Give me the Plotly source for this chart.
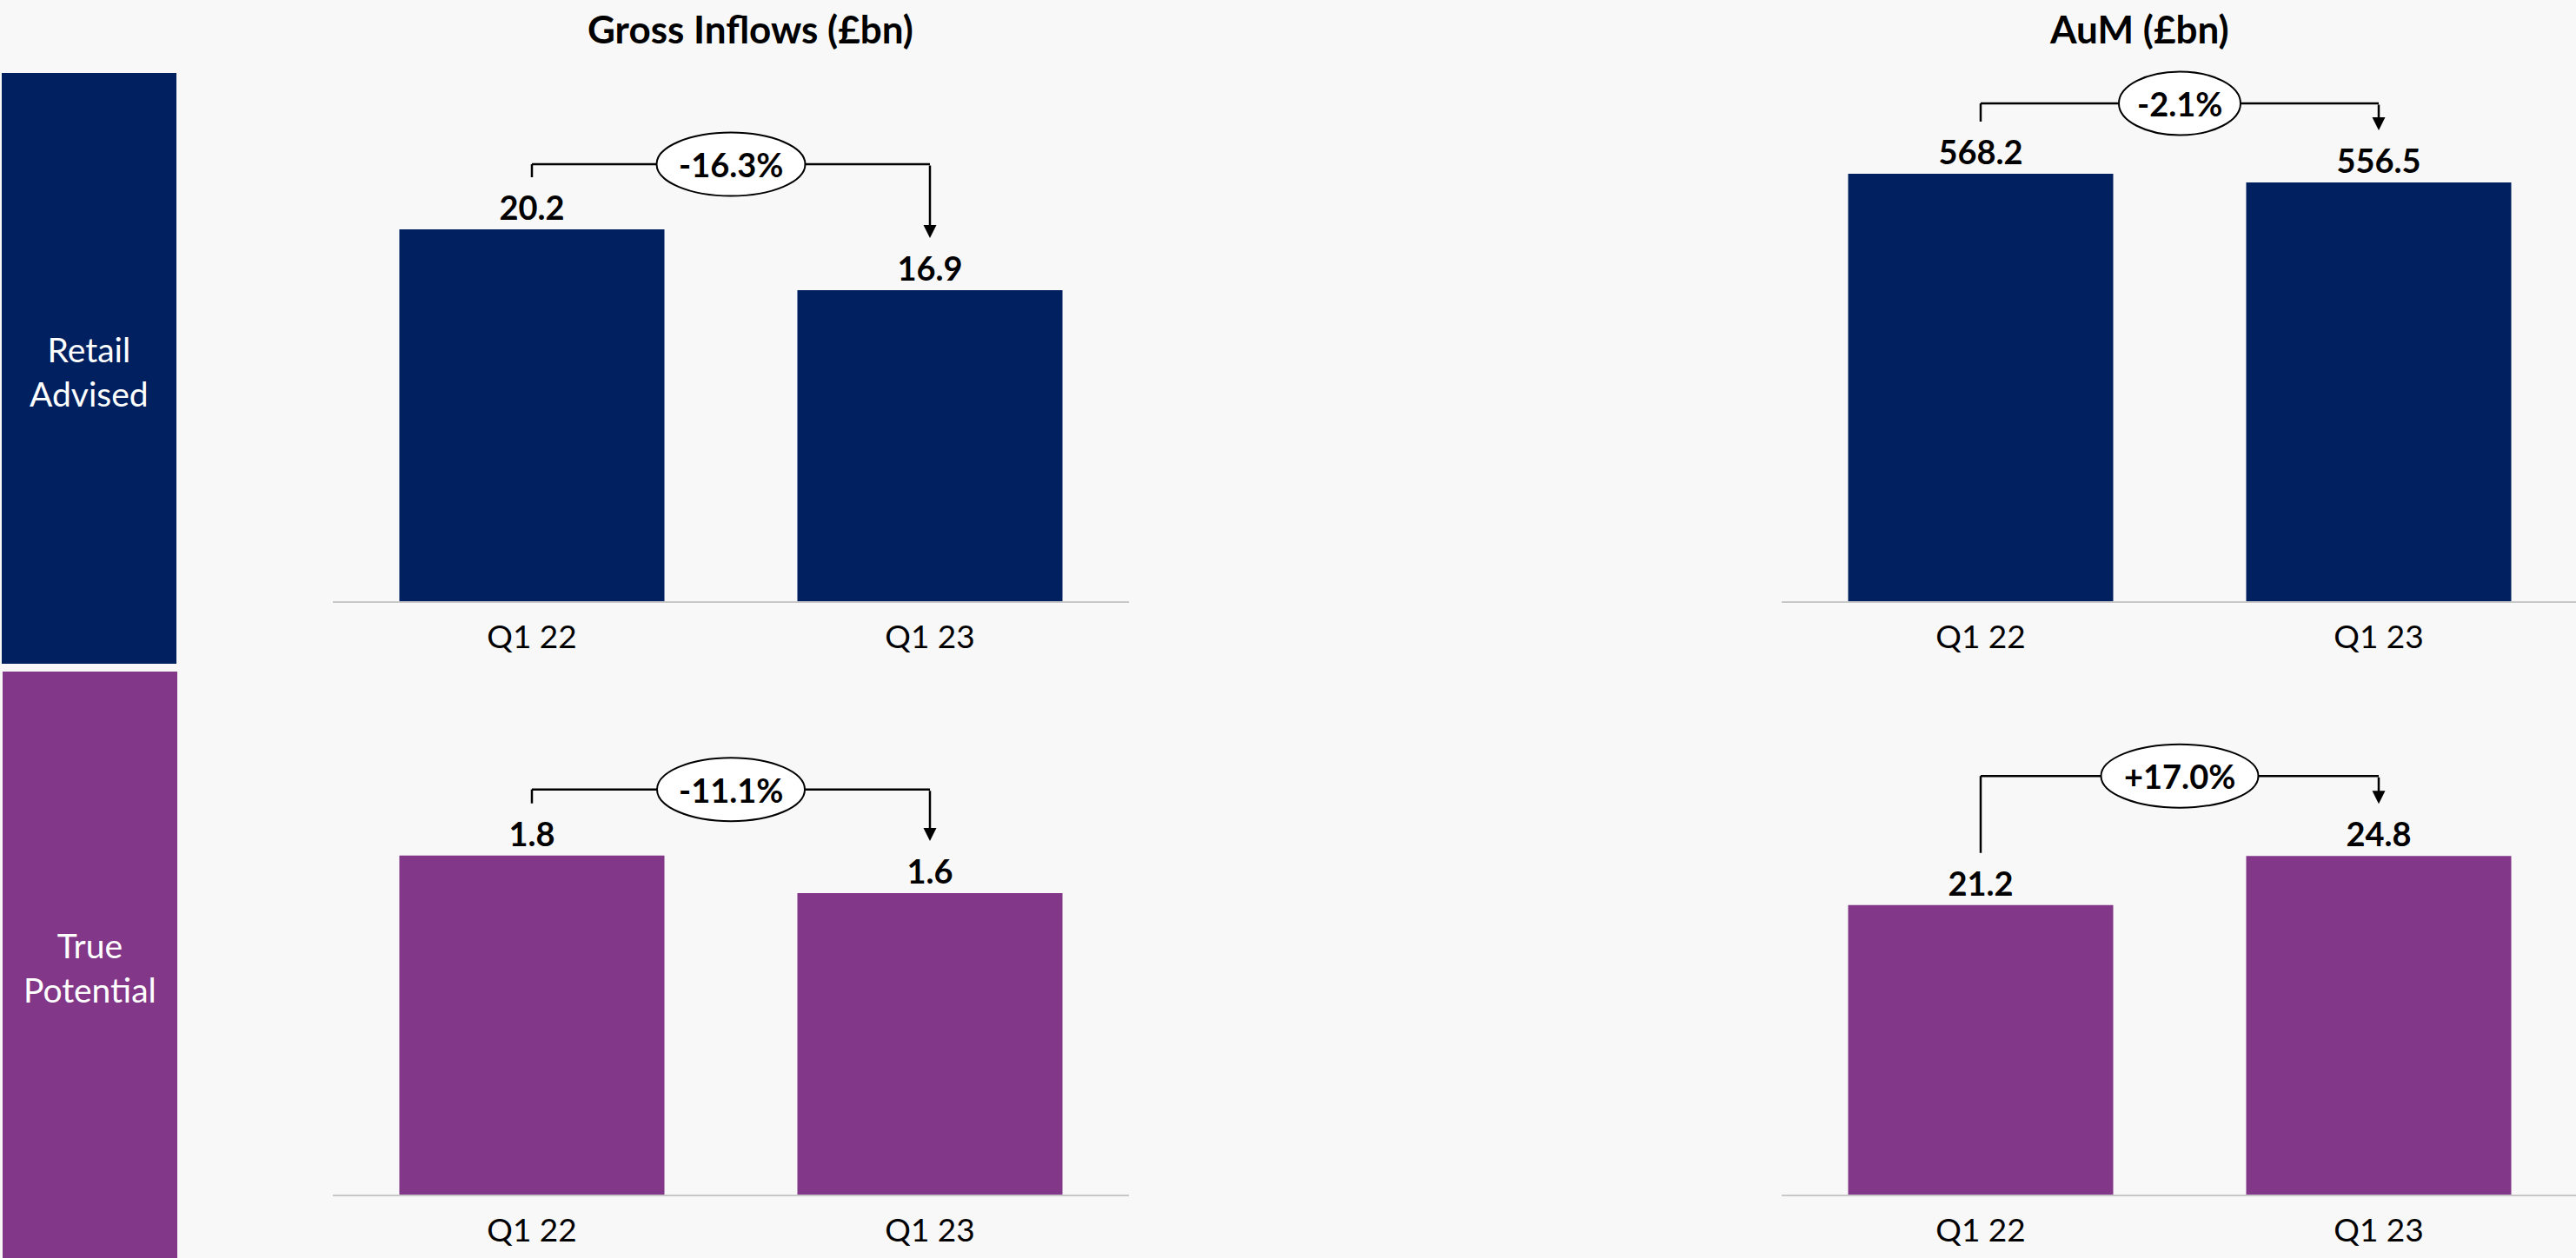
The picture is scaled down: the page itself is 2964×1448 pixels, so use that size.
import plotly.graph_objects as go

# ---------------- data ----------------
categories = ["Q1 22", "Q1 23"]
retail_inflows = [20.2, 16.9]
retail_aum = [568.2, 556.5]
tp_inflows = [1.8, 1.6]
tp_aum = [21.2, 24.8]
change_labels = ["-16.3%", "-2.1%", "-11.1%", "+17.0%"]
panel_titles = ["Gross Inflows (£bn)", "AuM (£bn)"]
row_labels = ["Retail<br>Advised", "True<br>Potential"]

# ---------------- layout settings ----------------
W, H = 2964, 1448
BG = "#F8F8F8"
NAVY = "#002060"
PURPLE = "#833788"
AXIS_GREY = "#C8C8C8"
FONT = "Lato"
FS = 38

col_px = [(383, 1299), (2050, 2966)]          # plot area x extents (px)
row_px = [(60, 692), (780, 1375)]             # plot area y extents (px, from top)
y_max = [[29.83, 729.8], [2.744, 37.85]]      # y range maxima per panel
bracket_rise = [[75, 81], [76, 92]]           # px above tallest bar
leg_gap = 60                                  # px above bar tops for leg ends
ellipse_w = [[171, 140], [170, 181]]
ellipse_h = 73
title_x_px = [863, 2461]
title_y_px = 33

panels = [
    (0, 0, retail_inflows, NAVY, change_labels[0]),
    (0, 1, retail_aum, NAVY, change_labels[1]),
    (1, 0, tp_inflows, PURPLE, change_labels[2]),
    (1, 1, tp_aum, PURPLE, change_labels[3]),
]

fig = go.Figure()
shapes = []
annotations = []
layout_axes = {}

for k, (r, c, vals, color, chg) in enumerate(panels, start=1):
    sfx = "" if k == 1 else str(k)
    xname, yname = "x" + sfx, "y" + sfx
    x0, x1 = col_px[c]
    yt, yb = row_px[r]
    cat_px = (x1 - x0) / 2.0
    x1c = min(x1, W)
    xrange = [-0.5, -0.5 + (x1c - x0) / cat_px]
    ymax = y_max[r][c]
    ppu = (yb - yt) / ymax

    layout_axes["xaxis" + sfx] = dict(
        domain=[x0 / W, x1c / W], anchor=yname, type="category",
        range=xrange, showline=True, linecolor=AXIS_GREY, linewidth=2,
        ticks="", ticklabelstandoff=8, showgrid=False, zeroline=False,
        tickfont=dict(family=FONT, size=37, color="black"), fixedrange=True,
    )
    layout_axes["yaxis" + sfx] = dict(
        domain=[(H - yb) / H, (H - yt) / H], anchor=xname,
        range=[0, ymax], visible=False, showgrid=False, zeroline=False,
        fixedrange=True,
    )

    fig.add_trace(go.Bar(
        x=categories, y=vals, xaxis=xname, yaxis=yname,
        marker=dict(color=color, line=dict(width=0)), width=0.666,
        text=[f"{v:.1f}" for v in vals], textposition="outside",
        textfont=dict(family=FONT, size=FS, color="black", weight="bold"),
        cliponaxis=False, constraintext="none", hoverinfo="skip",
        showlegend=False,
    ))

    # callout bracket
    v0, v1 = vals
    level = max(vals) + bracket_rise[r][c] / ppu
    leg_end = v0 + leg_gap / ppu
    tip = v1 + leg_gap / ppu
    line = dict(color="black", width=2.5)
    shapes.append(dict(type="line", xref=xname, yref=yname,
                       x0=0, x1=0, y0=leg_end, y1=level, line=line))
    shapes.append(dict(type="line", xref=xname, yref=yname,
                       x0=0, x1=1, y0=level, y1=level, line=line))
    ew = ellipse_w[r][c]
    shapes.append(dict(type="circle", xref=xname, yref=yname,
                       xsizemode="pixel", ysizemode="pixel",
                       xanchor=0.5, yanchor=level,
                       x0=-ew / 2, x1=ew / 2, y0=-ellipse_h / 2, y1=ellipse_h / 2,
                       fillcolor="white", line=dict(color="black", width=2)))
    annotations.append(dict(
        xref=xname, yref=yname, x=1, y=tip, axref=xname, ayref=yname,
        ax=1, ay=level, text="", showarrow=True, arrowhead=2,
        arrowsize=1.2, arrowwidth=2.5, arrowcolor="black", standoff=0,
    ))
    annotations.append(dict(
        xref=xname, yref=yname, x=0.5, y=level, text=f"<b>{chg}</b>",
        showarrow=False, xanchor="center", yanchor="middle",
        font=dict(family=FONT, size=FS, color="black"),
    ))

# row label boxes
box_specs = [((2, 84, 203, 764), NAVY), ((3, 773, 204, 1448), PURPLE)]
for (bx0, by0, bx1, by1), col in box_specs:
    shapes.append(dict(type="rect", xref="paper", yref="paper",
                       x0=bx0 / W, x1=bx1 / W, y0=1 - by1 / H, y1=1 - by0 / H,
                       fillcolor=col, line=dict(width=0), layer="below"))
for i, lbl in enumerate(row_labels):
    (bx0, by0, bx1, by1), _ = box_specs[i]
    annotations.append(dict(
        xref="paper", yref="paper", x=(bx0 + bx1) / 2 / W,
        y=1 - ((by0 + by1) / 2 + 3) / H, text=lbl, showarrow=False,
        xanchor="center", yanchor="middle",
        font=dict(family=FONT, size=39, color="white"),
    ))

# column titles
for i, t in enumerate(panel_titles):
    annotations.append(dict(
        xref="paper", yref="paper", x=title_x_px[i] / W, y=1 - title_y_px / H,
        text=f"<b>{t}</b>", showarrow=False, xanchor="center", yanchor="middle",
        font=dict(family=FONT, size=44, color="black"),
    ))

fig.update_layout(
    width=W, height=H, margin=dict(l=0, r=0, t=0, b=0),
    paper_bgcolor=BG, plot_bgcolor=BG,
    font=dict(family=FONT, size=FS, color="black"),
    shapes=shapes, annotations=annotations, showlegend=False,
    **layout_axes,
)

fig.write_html("out.html", config={"displayModeBar": False})
